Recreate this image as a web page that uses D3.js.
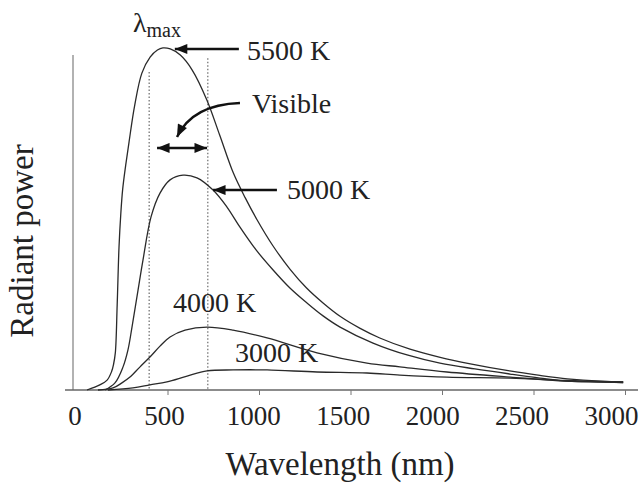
<!DOCTYPE html>
<html>
<head>
<meta charset="utf-8">
<script src="https://cdn.jsdelivr.net/npm/d3@7"></script>
<style>
  body { margin: 0; background: #fff; }
  svg { display: block; font-family: "Liberation Serif", "Times New Roman", serif; }
</style>
</head>
<body>
<div id="chart"></div>
<script>
// wavelength (nm) and radiant power (arbitrary units, 5500 K peak ~ 100)
var wl5500 = [60, 130, 170, 195, 205, 215, 225, 235, 245, 255, 270, 290, 320, 360, 405, 445, 475, 515, 570, 635, 715, 785, 860, 925, 990, 1075, 1170, 1260, 1350, 1445, 1550, 1660, 1825, 1990, 2155, 2370, 2535, 2685, 2865, 2990];
var pw5500 = [0, 1.5, 2.9, 5.5, 7.5, 11, 25, 42, 52, 59, 65.5, 73, 83.5, 93.2, 97.9, 100, 100.6, 100.3, 98.5, 94.1, 85.3, 75, 63.8, 56.5, 50, 42.5, 35.5, 30, 25.6, 21.6, 18.2, 15.3, 12.0, 9.6, 7.7, 5.6, 4.3, 3.3, 2.6, 2.4];

var wl5000 = [158, 213, 257, 284, 306, 339, 366, 410, 459, 514, 585, 661, 749, 825, 896, 984, 1077, 1169, 1262, 1350, 1443, 1623, 1809, 1989, 2180, 2372, 2536, 2683, 2863, 2990];
var pw5000 = [0, 2.1, 6.8, 11.8, 18.5, 29.4, 38.2, 50.9, 57.9, 61.8, 63.2, 62.4, 58.8, 53.8, 47.9, 41.2, 35.3, 30, 25.6, 21.8, 18.5, 13.8, 10.3, 7.9, 6.2, 4.7, 3.5, 2.6, 2.4, 2.2];

var wl4000 = [120, 202, 251, 295, 350, 404, 459, 514, 596, 716, 858, 1044, 1317, 1590, 1770, 2027, 2372, 2683, 2990];
var pw4000 = [0, 0.6, 2.1, 3.8, 6.8, 9.7, 12.9, 15.6, 17.6, 18.5, 17.6, 15.3, 10.9, 7.9, 6.8, 5.3, 3.8, 2.6, 2.2];

var wl3000 = [175, 311, 404, 497, 607, 716, 858, 1044, 1317, 1590, 1770, 2027, 2372, 2683, 2990];
var pw3000 = [0, 0.6, 1.5, 2.4, 4.1, 5.6, 5.9, 5.9, 5.3, 5.0, 4.4, 3.8, 3.5, 2.8, 2.4];

var xTicks = [0, 500, 1000, 1500, 2000, 2500, 3000];
var visibleBand = [400, 720];

var svgWidth = 641;
var svgHeight = 485;

var svg = d3.select("#chart")
  .append("svg")
  .attr("width", svgWidth)
  .attr("height", svgHeight);

var xScale = d3.scaleLinear().domain([0, 3000]).range([76, 625]);
var yScale = d3.scaleLinear().domain([0, 100]).range([390, 50]);
// the printed tick labels sit a little left of their ticks
var labelScale = d3.scaleLinear().domain([0, 3000]).range([74.5, 611]);

var defs = svg.append("defs");
defs.append("marker")
  .attr("id", "head")
  .attr("viewBox", "0 0 10 8")
  .attr("refX", 10)
  .attr("refY", 4)
  .attr("markerUnits", "userSpaceOnUse")
  .attr("markerWidth", 14)
  .attr("markerHeight", 10)
  .attr("orient", "auto-start-reverse")
  .append("path")
  .attr("d", "M0,0 L10,4 L0,8 Z")
  .attr("fill", "#111");

// axes
svg.append("line")
  .attr("x1", 73).attr("x2", 73)
  .attr("y1", 55).attr("y2", yScale(0))
  .attr("stroke", "#999")
  .attr("stroke-width", 1.5);

svg.append("line")
  .attr("x1", 65).attr("x2", 638)
  .attr("y1", yScale(0)).attr("y2", yScale(0))
  .attr("stroke", "#666")
  .attr("stroke-width", 1.5);

var bottomAxis = d3.axisBottom(xScale).tickValues(xTicks).tickSize(5).tickFormat(d3.format("d"));

var xAxis = svg.append("g")
  .attr("transform", `translate(0, ${yScale(0)})`)
  .call(bottomAxis)
  .attr("font-family", null)
  .attr("font-size", null);

xAxis.select(".domain").remove();
xAxis.selectAll(".tick line")
  .attr("stroke", "#777")
  .filter(d => d === 0).remove();
xAxis.selectAll(".tick text")
  .attr("y", 35)
  .attr("dy", 0)
  .attr("x", d => labelScale(d) - xScale(d))
  .attr("font-size", "27px")
  .attr("fill", "#222");

// visible band
svg.selectAll(".band")
  .data([[visibleBand[0], 93.5], [visibleBand[1], 97.6]])
  .enter()
  .append("line")
  .attr("class", "band")
  .attr("x1", d => xScale(d[0])).attr("x2", d => xScale(d[0]))
  .attr("y1", d => yScale(d[1])).attr("y2", yScale(0))
  .attr("stroke", "#888")
  .attr("stroke-width", 1.5)
  .attr("stroke-dasharray", "1.5,2");

// curves
var series = [
  { wl: wl5500, pw: pw5500 },
  { wl: wl5000, pw: pw5000 },
  { wl: wl4000, pw: pw4000 },
  { wl: wl3000, pw: pw3000 }
];

var line = d3.line()
  .x(d => xScale(d[0]))
  .y(d => yScale(d[1]))
  .curve(d3.curveCatmullRom.alpha(0.5));

svg.selectAll(".curve")
  .data(series)
  .enter()
  .append("path")
  .attr("class", "curve")
  .attr("d", s => line(s.wl.map((w, i) => [w, s.pw[i]])))
  .attr("fill", "none")
  .attr("stroke", "#2a2a2a")
  .attr("stroke-width", 1.3);

// arrows
var arrows = [
  [[890, 100.3], [540, 100.3]],
  [[1098, 58.8], [749, 58.8]]
];
svg.selectAll(".arrow")
  .data(arrows)
  .enter()
  .append("line")
  .attr("class", "arrow")
  .attr("x1", d => xScale(d[0][0])).attr("y1", d => yScale(d[0][1]))
  .attr("x2", d => xScale(d[1][0])).attr("y2", d => yScale(d[1][1]))
  .attr("stroke", "#111")
  .attr("stroke-width", 2.5)
  .attr("marker-end", "url(#head)");

svg.append("line")
  .attr("x1", xScale(443)).attr("x2", xScale(716))
  .attr("y1", yScale(71.2)).attr("y2", yScale(71.2))
  .attr("stroke", "#111")
  .attr("stroke-width", 2.5)
  .attr("marker-start", "url(#head)")
  .attr("marker-end", "url(#head)");

var bend = [[896, 84.4], [721, 84.1], [607, 80.6], [552, 74.4]];
var bp = bend.map(d => [xScale(d[0]), yScale(d[1])]);
svg.append("path")
  .attr("d", `M${bp[0]} C${bp[1]} ${bp[2]} ${bp[3]}`)
  .attr("fill", "none")
  .attr("stroke", "#111")
  .attr("stroke-width", 2.5)
  .attr("marker-end", "url(#head)");

// labels
var labels = [
  { text: "5500 K", wl: 934, pw: 97.1 },
  { text: "Visible", wl: 962, pw: 81.5 },
  { text: "5000 K", wl: 1153, pw: 56.2 },
  { text: "4000 K", wl: 530, pw: 22.9 },
  { text: "3000 K", wl: 869, pw: 8.2 }
];
svg.selectAll(".lbl")
  .data(labels)
  .enter()
  .append("text")
  .attr("class", "lbl")
  .attr("x", d => xScale(d.wl))
  .attr("y", d => yScale(d.pw))
  .attr("font-size", "28px")
  .attr("fill", "#222")
  .text(d => d.text);

var lmax = svg.append("text")
  .attr("x", xScale(311))
  .attr("y", yScale(105.3))
  .attr("font-size", "28px")
  .attr("fill", "#222")
  .text("λ");
lmax.append("tspan")
  .attr("font-size", "20px")
  .attr("dy", 5)
  .text("max");

// axis titles
svg.append("text")
  .attr("x", 340)
  .attr("y", 475)
  .attr("text-anchor", "middle")
  .attr("font-size", "33px")
  .attr("fill", "#222")
  .text("Wavelength (nm)");

svg.append("text")
  .attr("transform", "translate(33, 241) rotate(-90)")
  .attr("text-anchor", "middle")
  .attr("font-size", "33px")
  .attr("fill", "#222")
  .text("Radiant power");
</script>
</body>
</html>
